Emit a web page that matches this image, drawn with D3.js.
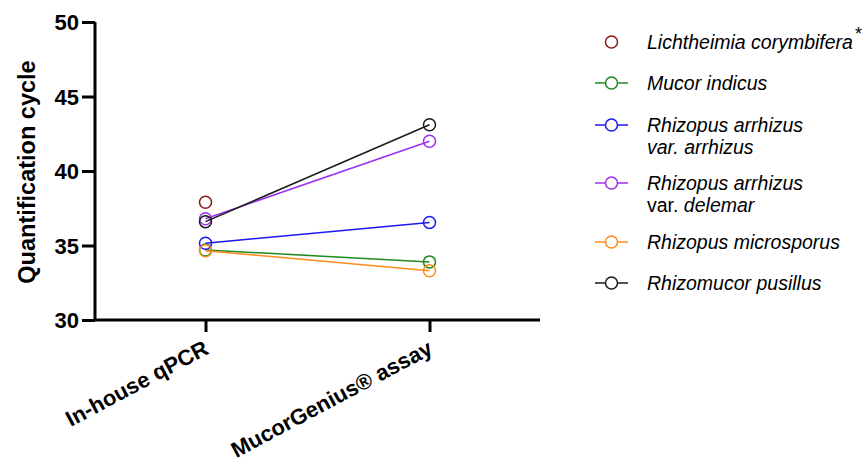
<!DOCTYPE html>
<html><head><meta charset="utf-8">
<script src="https://cdn.jsdelivr.net/npm/d3@7"></script>
<style>body{margin:0;background:#fff;} text{font-family:"Liberation Sans",Arial,sans-serif;}</style>
</head><body><svg id="c" width="865" height="468"></svg>
<script>
const categories = ["In-house qPCR", "MucorGenius\u00AE assay"];
const seriesNames = ["Lichtheimia corymbifera", "Mucor indicus", "Rhizopus arrhizus var. arrhizus", "Rhizopus arrhizus var. delemar", "Rhizopus microsporus", "Rhizomucor pusillus"];
const seriesColors = ["#8B1A1A", "#1F8A1F", "#1A1AF0", "#9B30F0", "#FF8C1A", "#1A1A1A"];
const lichtheimia = [37.9, null];
const mucorIndicus = [34.7, 33.9];
const arrhizus = [35.15, 36.55];
const delemar = [36.8, 42.0];
const microsporus = [34.65, 33.3];
const pusillus = [36.6, 43.1];
const seriesValues = [lichtheimia, mucorIndicus, arrhizus, delemar, microsporus, pusillus];
const yTicks = [30, 35, 40, 45, 50];

const svg = d3.select("#c");
const x = d3.scalePoint().domain(categories).range([205.5, 429.5]);
const y = d3.scaleLinear().domain([30, 50]).range([320, 22]);
const font = '"Liberation Sans",Arial,sans-serif';

// Y axis
const ya = svg.append("g").attr("transform","translate(95,0)")
  .call(d3.axisLeft(y).tickValues(yTicks).tickSize(13).tickPadding(3).tickFormat(d3.format("d")));
ya.select(".domain").attr("stroke","#000").attr("stroke-width",3).attr("d","M0,22V320");
ya.selectAll(".tick line").attr("stroke","#000").attr("stroke-width",3);
ya.selectAll(".tick text").attr("fill","#000").style("font-size","22px").style("font-weight","bold").style("font-family",font).attr("dy","0.36em");

// X axis
const xa = svg.append("g").attr("transform","translate(0,320)")
  .call(d3.axisBottom(x).tickSize(12).tickSizeOuter(0));
xa.select(".domain").attr("stroke","#000").attr("stroke-width",3).attr("d","M95,0H540");
xa.selectAll(".tick line").attr("stroke","#000").attr("stroke-width",3);
xa.selectAll(".tick text").attr("fill","#000").style("font-size","22px").style("font-weight","bold").style("font-family",font)
  .attr("text-anchor","end").attr("dy",null).attr("y",0)
  .attr("transform","translate(4,33) rotate(-28)");

// Y label
svg.append("text").attr("transform","translate(35,172) rotate(-90)").attr("text-anchor","middle")
  .style("font-size","23.5px").style("font-weight","bold").text("Quantification cycle");

// Series
seriesValues.forEach((vals, i) => {
  const pts = vals.map((v, j) => ({c: categories[j], v})).filter(p => p.v != null);
  const g = svg.append("g");
  if (pts.length > 1) {
    g.append("path").datum(pts)
      .attr("d", d3.line().x(p => x(p.c)).y(p => y(p.v)))
      .attr("fill","none").attr("stroke",seriesColors[i]).attr("stroke-width",1.5);
  }
  g.selectAll("circle").data(pts).join("circle")
    .attr("cx", p => x(p.c)).attr("cy", p => y(p.v)).attr("r", 6)
    .attr("fill","none").attr("stroke",seriesColors[i]).attr("stroke-width",1.5);
});

// Legend
const legRows = [42, 83, 125, 183, 242, 283];
const legLines = [
  [[{t:"Lichtheimia corymbifera", i:true}]],
  [[{t:"Mucor indicus", i:true}]],
  [[{t:"Rhizopus arrhizus", i:true}], [{t:"var. arrhizus", i:true}]],
  [[{t:"Rhizopus arrhizus", i:true}], [{t:"var. ", i:false}, {t:"delemar", i:true}]],
  [[{t:"Rhizopus microsporus", i:true}]],
  [[{t:"Rhizomucor pusillus", i:true}]]
];
const leg = svg.append("g");
seriesNames.forEach((name, i) => {
  const gy = legRows[i];
  const g = leg.append("g").attr("transform", `translate(0,${gy})`);
  if (i > 0) g.append("line").attr("x1",595).attr("x2",628).attr("stroke",seriesColors[i]).attr("stroke-width",1.5);
  g.append("circle").attr("cx",611.5).attr("cy",0).attr("r",6).attr("fill","#fff").attr("stroke",seriesColors[i]).attr("stroke-width",1.5);
  legLines[i].forEach((line, k) => {
    const t = g.append("text").attr("x",647).attr("y", k*22).attr("dy","0.36em").style("font-size","19.5px").attr("fill","#000");
    line.forEach(seg => t.append("tspan").style("font-style", seg.i ? "italic" : "normal").text(seg.t));
    if (i === 0) t.append("tspan").attr("dy","-0.5em").attr("dx","2").style("font-size","18px").text("*");
  });
});
</script></body></html>
